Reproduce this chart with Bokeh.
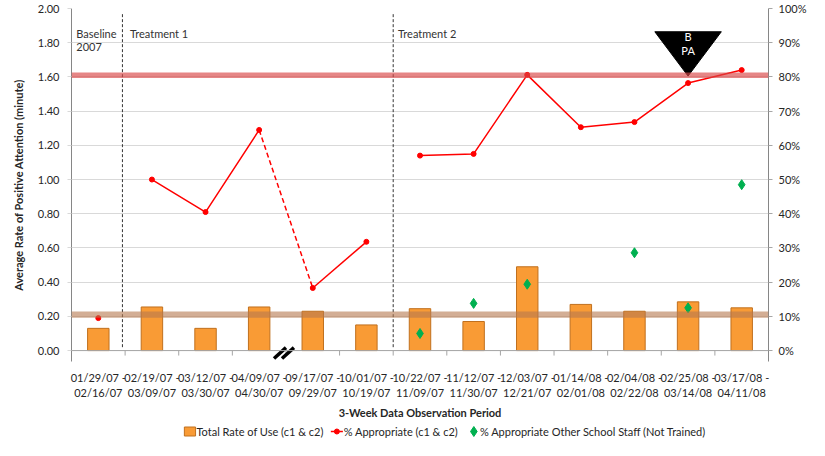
import numpy as np
from bokeh.plotting import figure
from bokeh.layouts import column
from bokeh.models import (Range1d, LinearAxis, FixedTicker, PrintfTickFormatter,
                          Span, BoxAnnotation, ColumnDataSource)
from bokeh.embed import file_html
from bokeh.resources import INLINE
from bokeh.core.properties import value

# ---------------- data ----------------
period_start = ["01/29/07", "02/19/07", "03/12/07", "04/09/07", "09/17/07", "10/01/07",
                "10/22/07", "11/12/07", "12/03/07", "01/14/08", "02/04/08", "02/25/08", "03/17/08"]
period_end = ["02/16/07", "03/09/07", "03/30/07", "04/30/07", "09/29/07", "10/19/07",
              "11/09/07", "11/30/07", "12/21/07", "02/01/08", "02/22/08", "03/14/08", "04/11/08"]
rate_of_use = [0.13, 0.255, 0.13, 0.255, 0.23, 0.15, 0.245, 0.17, 0.49, 0.27, 0.23, 0.285, 0.25]
pct_appropriate = [9.5, 50.0, 40.5, 64.5, 18.3, 31.8, 57.0, 57.5, 80.6, 65.3, 66.8, 78.2, 82.0]
pct_other_staff = [np.nan, np.nan, np.nan, np.nan, np.nan, np.nan,
                   5.0, 13.8, 19.4, np.nan, 28.6, 12.5, 48.5]
series_names = ["Total Rate of Use (c1 & c2)", "% Appropriate (c1 & c2)",
                "% Appropriate Other School Staff (Not Trained)"]
# connected runs of the % appropriate line (indices), and the dashed link across the break
solid_runs = [[1, 2, 3], [4, 5], [6, 7, 8, 9, 10, 11, 12]]
dashed_link = [3, 4]
break_index = 4          # axis break before this period
phase_lines = [0.95, 6.0]
phase_labels = ["Baseline\n2007", "Treatment 1", "Treatment 2"]
phase_label_x = [0.09, 1.09, 6.09]
marker_index = 11        # "B / PA" marker
marker_text = "B\nPA"
criterion_high = 1.61    # left-axis units
criterion_low = 0.21

FONT = "Lato"
TXT = "#262626"
AX = "#a6a6a6"
BAR_FILL, BAR_LINE = "#f99b35", "#c0701e"
RED, GREEN = "#ff0000", "#00b050"
n = len(period_start)
xc = np.arange(n) + 0.5

W, H = 809, 422
BL, BT, BB, BR = 71, 8, 58, 38
FW, FH = W - BL - BR, H - BT - BB
EXT = 11                              # px of frame kept below the zero line
y_lo = -2.0 * EXT / (FH - EXT)
px_x = n / FW
px_y = (2.0 - y_lo) / FH

p = figure(width=W, height=H, output_backend="svg", toolbar_location=None,
           x_range=Range1d(0, n), y_range=Range1d(y_lo, 2),
           min_border_left=BL, min_border_top=BT, min_border_right=8, min_border_bottom=BB)
p.outline_line_color = None
p.background_fill_color = "white"
p.extra_y_ranges = {"pct": Range1d(y_lo * 50, 100)}

# x axis: labels only; the zero line and ticks are drawn at y = 0 below
xa = p.xaxis[0]
xa.ticker = FixedTicker(ticks=list(xc))
xa.major_label_overrides = {float(x): f"{s} -\n{e}" for x, s, e in zip(xc, period_start, period_end)}
xa.major_tick_line_color = None
xa.minor_tick_line_color = None
xa.axis_line_color = None
xa.major_label_text_font = FONT
xa.major_label_text_font_size = "11px"
xa.major_label_text_color = TXT
xa.major_label_standoff = 3
xa.axis_label = "3-Week Data Observation Period"
xa.axis_label_text_font = FONT
xa.axis_label_text_font_size = "11px"
xa.axis_label_text_font_style = "bold"
xa.axis_label_text_color = TXT
xa.axis_label_standoff = 4

ya = p.yaxis[0]
ya.ticker = FixedTicker(ticks=[round(0.2 * i, 2) for i in range(11)])
ya.formatter = PrintfTickFormatter(format="%.2f")
ya.major_tick_out = 4
ya.major_tick_in = 0
ya.minor_tick_line_color = None
ya.major_tick_line_color = "#d9d9d9"
ya.axis_line_color = "#868686"
ya.major_label_text_font = FONT
ya.major_label_text_font_size = "11px"
ya.major_label_text_color = TXT
ya.major_label_standoff = 8
ya.axis_label = "Average Rate of Positive Attention (minute)"
ya.axis_label_text_font = FONT
ya.axis_label_text_font_size = "11px"
ya.axis_label_text_font_style = "bold"
ya.axis_label_text_color = TXT
ya.axis_label_standoff = 10

ra = LinearAxis(y_range_name="pct", ticker=FixedTicker(ticks=list(range(0, 101, 10))),
                formatter=PrintfTickFormatter(format="%d%%"))
ra.major_tick_out = 4
ra.major_tick_in = 0
ra.major_tick_line_color = AX
ra.minor_tick_line_color = None
ra.axis_line_color = "#868686"
ra.major_label_text_font = FONT
ra.major_label_text_font_size = "11px"
ra.major_label_text_color = TXT
ra.major_label_standoff = 6
p.add_layout(ra, "right")

p.xgrid.grid_line_color = None
p.ygrid.ticker = ya.ticker
p.ygrid.grid_line_color = "#d9d9d9"

# zero line with boundary ticks
bounds = np.arange(n + 1)
p.segment(x0=bounds, y0=0, x1=bounds, y1=-5 * px_y, line_color=AX, line_width=1)
p.add_layout(Span(location=0, dimension="width", line_color=AX, line_width=1))

# bars
src = ColumnDataSource(dict(x=xc, rate=rate_of_use, pct=pct_appropriate, other=pct_other_staff))
p.vbar(x="x", top="rate", bottom=0, width=0.4, source=src, fill_color=BAR_FILL,
       line_color=BAR_LINE, line_width=1)

# criterion bands
p.add_layout(BoxAnnotation(bottom=criterion_low - 0.018, top=criterion_low + 0.018,
                           fill_color="#b5784f", fill_alpha=0.6, line_color=None))
p.add_layout(BoxAnnotation(bottom=criterion_high - 0.016, top=criterion_high + 0.016,
                           fill_color="#d94545", fill_alpha=0.65, line_color=None))

# phase change lines
p.segment(x0=phase_lines, y0=0.02, x1=phase_lines, y1=1.97, line_color="#333333",
          line_width=1, line_dash="3 2")

# % appropriate line
for run in solid_runs:
    p.line(x=[xc[i] for i in run], y=[pct_appropriate[i] for i in run], y_range_name="pct",
           line_color=RED, line_width=1.5)
p.line(x=[xc[i] for i in dashed_link], y=[pct_appropriate[i] for i in dashed_link],
       y_range_name="pct", line_color=RED, line_width=1.5, line_dash="5 3")
p.scatter(x="x", y="pct", source=src, y_range_name="pct", marker="circle",
          size=5, fill_color=RED, line_color=RED)
p.scatter(x="x", y="other", source=src, y_range_name="pct", marker="diamond",
          size=10, fill_color=GREEN, line_color=GREEN)

# phase labels
lab_x, lab_y, lab_t = [], [], []
for t, x in zip(phase_labels, phase_label_x):
    for k, line in enumerate(t.split("\n")):
        lab_x.append(x)
        lab_y.append(1.851 - 0.079 * k)
        lab_t.append(line)
p.text(x=lab_x, y=lab_y, text=lab_t, text_font=value(FONT), text_font_size="11px",
       text_color="#333333", text_align="left", text_baseline="middle")

# B/PA marker (inverted triangle pointing at criterion line)
mx = xc[marker_index]
p.patch(x=[mx - 0.62, mx + 0.62, mx], y=[1.864, 1.864, criterion_high - 0.005],
        fill_color="black", line_color="black")
mt = marker_text.split("\n")
p.text(x=[mx] * len(mt), y=[1.835 - 0.079 * k for k in range(len(mt))], text=mt,
       text_font=value(FONT), text_font_size="11px", text_color="white",
       text_align="center", text_baseline="middle")

# axis break marks: two thick slashes across the zero line
sx0, sy0, sx1, sy1 = [], [], [], []
for off in (-4, 4):
    cx = break_index + (off - 2) * px_x
    cy = -2.5 * px_y
    sx0.append(cx - 6 * px_x); sy0.append(cy - 5.5 * px_y)
    sx1.append(cx + 6 * px_x); sy1.append(cy + 5.5 * px_y)
p.segment(x0=sx0, y0=sy0, x1=sx1, y1=sy1, line_color="black", line_width=3.5)

# ---------------- legend strip (own small figure, pixel units) ----------------
LH = 18
leg = figure(width=W, height=LH, output_backend="svg", toolbar_location=None,
             x_range=Range1d(0, W), y_range=Range1d(0, LH), min_border=0)
leg.axis.visible = False
leg.grid.grid_line_color = None
leg.outline_line_color = None
ly = LH / 2
leg.rect(x=[137.5], y=[ly], width=13, height=9, fill_color=BAR_FILL, line_color=BAR_LINE)
leg.line(x=[301, 315], y=[ly, ly], line_color=RED, line_width=1.5)
leg.scatter(x=[308], y=[ly], marker="circle", size=5, fill_color=RED, line_color=RED)
leg.scatter(x=[467], y=[ly], marker="diamond", size=10, fill_color=GREEN, line_color=GREEN)
leg.text(x=[145, 316, 474], y=[ly] * 3, text=series_names, text_font=value(FONT),
         text_font_size="11px", text_color=TXT, text_align="left", text_baseline="middle")

open("out.html", "w").write(file_html(column(p, leg, spacing=0), INLINE))
